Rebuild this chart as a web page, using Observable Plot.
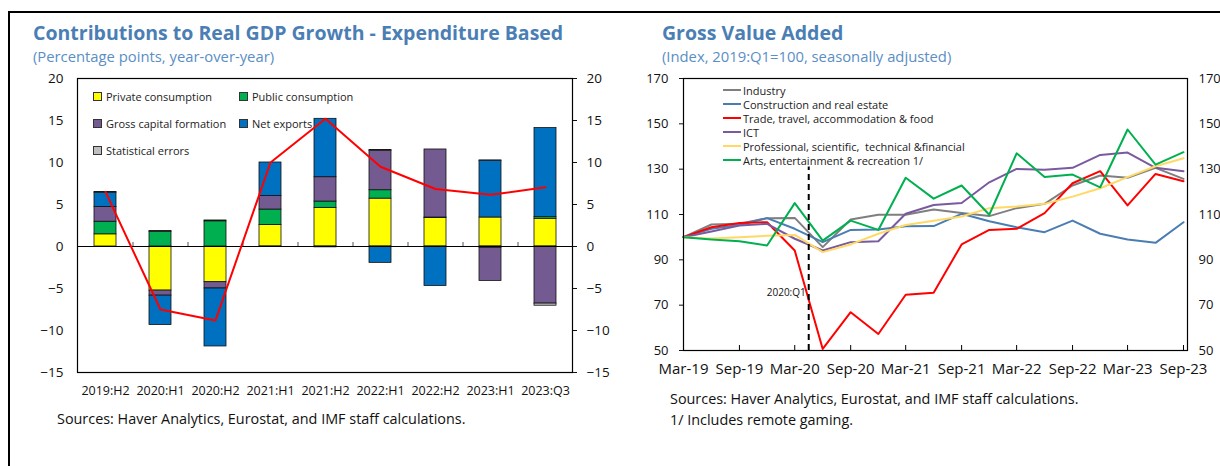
<!DOCTYPE html>
<html><head><meta charset="utf-8">
<script src="https://cdn.jsdelivr.net/npm/d3@7"></script>
<script src="https://cdn.jsdelivr.net/npm/@observablehq/plot@0.6"></script>
<style>
body{margin:0;width:1220px;height:466px;overflow:hidden;background:#fff;font-family:"Open Sans",sans-serif;position:relative}
.frame{position:absolute;left:8px;top:11px;width:1300px;height:500px;border-left:2px solid #000;border-top:2px solid #000}
.title{position:absolute;font-weight:700;font-size:19.5px;color:#4a7eb4;white-space:nowrap}
.sub{position:absolute;font-size:14.8px;color:#5a8ec4;white-space:nowrap}
.note{position:absolute;font-size:14.4px;color:#111;white-space:nowrap}
.chart{position:absolute;top:70px}
.leg{position:absolute;font-size:11px;color:#222;white-space:nowrap;display:flex;align-items:center;height:16px}
.sw{width:7px;height:7px;border:1px solid #333;margin-right:4px}
.ln{width:18px;height:2.5px;margin-right:2px}
</style></head><body>
<div class="frame"></div>
<div class="title" style="left:33px;top:19px">Contributions to Real GDP Growth - Expenditure Based</div>
<div class="sub" style="left:33px;top:46px">(Percentage points, year-over-year)</div>
<div class="title" style="left:662px;top:19px">Gross Value Added</div>
<div class="sub" style="left:662px;top:46px">(Index, 2019:Q1=100, seasonally adjusted)</div>
<div id="left" class="chart" style="left:0px"></div>
<div id="right" class="chart" style="left:610px"></div>
<div class="note" style="left:57px;top:409px">Sources: Haver Analytics, Eurostat, and IMF staff calculations.</div>
<div class="note" style="left:670px;top:389px">Sources: Haver Analytics, Eurostat, and IMF staff calculations.</div>
<div class="note" style="left:670px;top:410px">1/ Includes remote gaming.</div>
<script>
// ---------- Left chart data ----------
const categories = ["2019:H2","2020:H1","2020:H2","2021:H1","2021:H2","2022:H1","2022:H2","2023:H1","2023:Q3"];
const privateConsumption    = [1.45, -5.25, -4.25, 2.55, 4.6, 5.7, 3.4, 3.45, 3.3];
const publicConsumption     = [1.5, 1.75, 3.0, 1.85, 0.75, 1.0, 0.05, -0.15, 0.2];
const grossCapitalFormation = [1.75, -0.6, -0.75, 1.6, 2.9, 4.7, 8.1, -3.95, -6.8];
const netExports            = [1.7, -3.5, -6.9, 4.0, 6.95, -1.95, -4.7, 6.75, 10.6];
const statisticalErrors     = [0.1, 0.1, 0.1, -0.05, -0.1, 0.1, 0.0, 0.05, -0.25];
const realGdpGrowth         = [6.5, -7.5, -8.8, 10.0, 15.2, 9.5, 6.85, 6.15, 7.05];
const barSeries = ["Private consumption","Public consumption","Gross capital formation","Net exports","Statistical errors"];
const leftTicks = [-15,-10,-5,0,5,10,15,20];

// ---------- Right chart data ----------
const quarters = ["2019-03","2019-06","2019-09","2019-12","2020-03","2020-06","2020-09","2020-12","2021-03","2021-06","2021-09","2021-12","2022-03","2022-06","2022-09","2022-12","2023-03","2023-06","2023-09"];
const industry     = [100,105.6,105.9,108.4,108.5,95.6,107.8,109.9,109.9,112.2,110.7,109.3,112.8,114.7,122.8,127.2,126.2,130.6,125.7];
const construction = [100,103.7,105.4,108.4,103.7,97.8,103.2,103.4,104.8,104.9,110.3,107.0,104.4,102.2,107.3,101.5,99.0,97.5,106.6];
const trade        = [100,104.4,106.2,106.6,94.1,50.7,66.9,57.3,74.6,75.5,96.8,103.2,103.7,110.6,123.8,129.1,114.0,127.9,124.7];
const ict          = [100,102.5,105.1,105.9,99.3,94.1,97.8,98.2,110.3,114.2,115.1,124.2,130.1,129.7,130.6,136.3,137.3,130.6,129.1];
const professional = [100,99.4,100.0,100.6,101.0,93.4,96.8,101.5,105.4,107.2,109.1,112.8,113.5,114.7,117.9,121.6,126.5,131.3,134.8];
const arts         = [100,99.0,98.2,96.3,115.0,98.5,107.3,103.2,126.2,117.0,122.8,109.9,137.0,126.5,127.6,122.0,147.5,132.0,137.5];
const lineSeries = ["Industry","Construction and real estate","Trade, travel, accommodation & food","ICT","Professional, scientific,  technical &financial","Arts, entertainment & recreation 1/"];
const tickQuarters = ["2019-03","2019-09","2020-03","2020-09","2021-03","2021-09","2022-03","2022-09","2023-03","2023-09"];
const rightTicks = [50,70,90,110,130,150,170];
const markerDate = "2020-04-16";
const markerLabel = "2020:Q1";
const markerTop = 131;
const markerLabelY = 75.5;

// ---------- Styles ----------
const barColors = ["#ffff00","#00b050","#735a91","#0070c0","#bfbfbf"];
const lineColors = ["#7f7f7f","#4a7eb3","#ff0000","#7a5a9e","#ffd966","#00b050"];
const font = "'Open Sans', sans-serif";

// ---------- Left chart ----------
const barValues = [privateConsumption, publicConsumption, grossCapitalFormation, netExports, statisticalErrors];
const barTable = [];
barSeries.forEach((s, k) => categories.forEach((c, i) => barTable.push({category: c, series: s, value: barValues[k][i]})));
const growthTable = categories.map((c, i) => ({category: c, value: realGdpGrowth[i]}));

const leftPlot = Plot.plot({
  width: 610, height: 340, marginLeft: 77, marginRight: 38, marginTop: 8, marginBottom: 38,
  style: {fontFamily: font, fontSize: "13.5px", color: "#111", background: "transparent"},
  x: {domain: categories, paddingInner: 0.6, paddingOuter: 0.3, label: null},
  y: {domain: [-15, 20], label: null},
  color: {domain: barSeries, range: barColors},
  marks: [
    Plot.barY(barTable, Plot.stackY({x: "category", y: "value", fill: "series", stroke: "#111", strokeWidth: 0.8})),
    Plot.ruleY([0], {stroke: "#000", strokeWidth: 1}),
    Plot.ruleX(categories.slice(0, -1), {x: d => d, y1: 0, y2: 0, insetBottom: 4, dx: 27.5, stroke: "#555"}),
    Plot.line(growthTable, {x: "category", y: "value", stroke: "#ff0000", strokeWidth: 2}),
    Plot.frame({stroke: "#000", strokeWidth: 1.2}),
    Plot.axisY({anchor: "left", ticks: leftTicks, tickSize: 0, tickPadding: 14, label: null}),
    Plot.axisY({anchor: "right", ticks: leftTicks, tickSize: 4, tickPadding: 10, label: null}),
    Plot.axisX({anchor: "bottom", tickSize: 0, tickPadding: 14, fontSize: 12.5, label: null})
  ]
});
document.getElementById("left").appendChild(leftPlot);

// left legend
const leftLegendPos = [[93, 96], [239, 96], [93, 123], [239, 123], [93, 150]];
barSeries.forEach((s, k) => {
  const d = document.createElement("div");
  d.className = "leg";
  d.style.left = leftLegendPos[k][0] + "px";
  d.style.top = (leftLegendPos[k][1] - 8) + "px";
  d.innerHTML = `<span class="sw" style="background:${barColors[k]}"></span>${s}`;
  document.body.appendChild(d);
});

// ---------- Right chart ----------
const parse = d3.utcParse("%Y-%m");
const dates = quarters.map(parse);
const lineValues = [industry, construction, trade, ict, professional, arts];
const lineTable = [];
lineSeries.forEach((s, k) => dates.forEach((d, i) => lineTable.push({date: d, series: s, value: lineValues[k][i]})));
const tickDates = tickQuarters.map(parse);
const marker = [{date: d3.utcParse("%Y-%m-%d")(markerDate), top: markerTop, labelY: markerLabelY, label: markerLabel}];

const rightPlot = Plot.plot({
  width: 610, height: 320, marginLeft: 73, marginRight: 33, marginTop: 8, marginBottom: 40,
  style: {fontFamily: font, fontSize: "13px", color: "#111", background: "transparent"},
  x: {type: "utc", domain: [dates[0], dates[dates.length - 1]], insetRight: 4, label: null},
  y: {domain: [50, 170], label: null},
  color: {domain: lineSeries, range: lineColors},
  marks: [
    Plot.line(lineTable, {x: "date", y: "value", z: "series", stroke: "series", strokeWidth: 2}),
    Plot.ruleX(marker, {x: "date", y1: 50, y2: "top", stroke: "#000", strokeWidth: 2, strokeDasharray: "6,4"}),
    Plot.text(marker, {x: "date", y: "labelY", text: "label", textAnchor: "end", dx: -3, fontSize: 10, fill: "#111"}),
    Plot.ruleX(tickDates, {x: d => d, y1: 50, y2: 50, insetBottom: 5, stroke: "#000"}),
    Plot.frame({stroke: "#000", strokeWidth: 1.2}),
    Plot.axisY({anchor: "left", ticks: rightTicks, tickSize: 4, tickPadding: 11, label: null}),
    Plot.axisY({anchor: "right", ticks: rightTicks, tickSize: 0, tickPadding: 11, label: null}),
    Plot.axisX({ticks: tickDates, tickFormat: "%b-%y", tickSize: 0, tickPadding: 13, fontSize: 15, label: null})
  ]
});
document.getElementById("right").appendChild(rightPlot);

// right legend
lineSeries.forEach((s, k) => {
  const d = document.createElement("div");
  d.className = "leg";
  d.style.left = "723px";
  d.style.top = (90 + 14 * k - 8) + "px";
  d.innerHTML = `<span class="ln" style="background:${lineColors[k]}"></span>${s.replace(/ /g, "&nbsp;")}`;
  document.body.appendChild(d);
});
</script>
</body></html>
